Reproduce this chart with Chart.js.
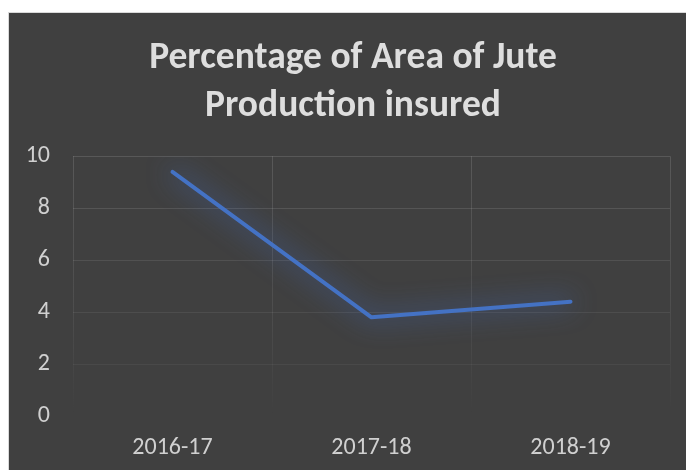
<!DOCTYPE html>
<html>
<head>
<meta charset="utf-8">
<script src="https://cdn.jsdelivr.net/npm/chart.js@4/dist/chart.umd.min.js"></script>
<style>
  html, body { margin: 0; padding: 0; background: #ffffff; }
  #wrap { position: absolute; left: 8px; top: 12px; width: 678px; height: 458px; background: #404040; border-left: 1px solid #d9d9d9; border-top: 1px solid #d9d9d9; box-sizing: border-box; }
  canvas { display: block; }
</style>
</head>
<body>
<div id="wrap"><canvas id="c" width="677" height="457"></canvas></div>
<script>
const titleLines = ["Percentage of Area of Jute", "Production insured"];
const categories = ["2016-17", "2017-18", "2018-19"];
const insuredPct = [9.4, 3.8, 4.4];
const yTicks = [0, 2, 4, 6, 8, 10];

const FONT = 'Carlito, "Open Sans", "Liberation Sans", sans-serif';

const glowPlugin = {
  id: 'glow',
  beforeDatasetDraw(chart) {
    const ctx = chart.ctx;
    ctx.save();
    ctx.shadowColor = 'rgba(68,114,210,1)';
    ctx.shadowBlur = 26;
  },
  afterDatasetDraw(chart) {
    chart.ctx.restore();
  }
};

function fadeGradient(ctx, chart) {
  const a = chart.chartArea;
  if (!a) return 'rgba(255,255,255,0.12)';
  const g = ctx.createLinearGradient(0, a.top, 0, a.bottom);
  g.addColorStop(0, 'rgba(255,255,255,0.13)');
  g.addColorStop(0.6, 'rgba(255,255,255,0.07)');
  g.addColorStop(1, 'rgba(255,255,255,0.0)');
  return g;
}

new Chart(document.getElementById('c'), {
  type: 'line',
  data: {
    labels: categories,
    datasets: [{
      data: insuredPct,
      borderColor: '#4472C4',
      borderWidth: 4,
      pointRadius: 0,
      tension: 0,
      borderCapStyle: 'round',
      borderJoinStyle: 'round',
      fill: false
    }]
  },
  options: {
    responsive: false,
    animation: false,
    layout: { padding: { left: 27, right: 16, top: 0, bottom: 0 } },
    plugins: {
      legend: { display: false },
      tooltip: { enabled: false },
      title: {
        display: true,
        text: titleLines,
        color: '#dedede',
        font: { family: FONT, size: 37.5, weight: 'bold', lineHeight: 1.27 },
        padding: { top: 22, bottom: 26 }
      }
    },
    scales: {
      x: {
        offset: true,
        grid: {
          offset: true,
          drawTicks: false,
          color: (c) => fadeGradient(c.chart.ctx, c.chart),
          lineWidth: 1
        },
        border: { display: false },
        ticks: { color: '#d0d0d0', font: { family: FONT, size: 24 }, padding: 18 },
        afterFit: (s) => { s.height = 54; }
      },
      y: {
        min: 0,
        max: 10,
        afterBuildTicks: (s) => { s.ticks = yTicks.map(v => ({ value: v })); },
        grid: {
          drawTicks: false,
          color: (c) => {
            const v = c.tick ? c.tick.value : 0;
            if (v === 0) return 'rgba(255,255,255,0)';
            const alpha = 0.03 + 0.1 * (v / 10);
            return 'rgba(255,255,255,' + alpha.toFixed(3) + ')';
          }
        },
        border: { display: false },
        ticks: { color: '#d0d0d0', font: { family: FONT, size: 24 }, padding: 23 },
        afterFit: (s) => {
          s.width = 37;
          s._computeLabelArea = () => undefined;
        }
      }
    }
  },
  plugins: [glowPlugin]
});
</script>
</body>
</html>
